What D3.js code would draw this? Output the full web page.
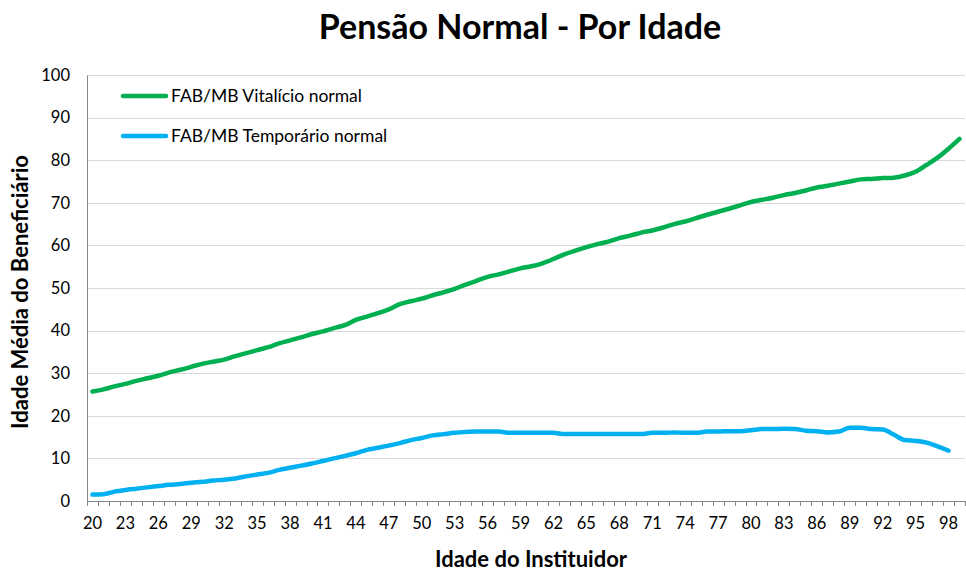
<!DOCTYPE html>
<html><head><meta charset="utf-8">
<script src="https://cdn.jsdelivr.net/npm/d3@7"></script>
<style>body{margin:0;background:#fff}svg{display:block}</style>
</head><body>
<script>
const ages = d3.range(20, 100);
const vitalicio = [25.7,26.2,26.9,27.5,28.2,28.8,29.4,30.2,30.8,31.5,32.2,32.7,33.2,34.0,34.7,35.4,36.1,37.0,37.7,38.4,39.2,39.8,40.6,41.3,42.5,43.3,44.1,45.0,46.2,46.9,47.5,48.3,49.0,49.8,50.8,51.7,52.6,53.2,53.9,54.6,55.1,55.8,56.8,57.9,58.8,59.6,60.3,60.9,61.7,62.3,63.0,63.5,64.2,65.0,65.6,66.4,67.2,67.9,68.6,69.4,70.2,70.7,71.2,71.8,72.3,72.9,73.6,74.0,74.5,75.0,75.5,75.6,75.8,75.9,76.4,77.3,78.9,80.6,82.7,85.0];
const temporario = [1.5,1.6,2.2,2.6,2.9,3.2,3.5,3.8,4.0,4.3,4.5,4.8,5.0,5.3,5.8,6.2,6.6,7.3,7.8,8.3,8.8,9.4,10.0,10.6,11.2,12.0,12.5,13.0,13.6,14.3,14.8,15.4,15.7,16.0,16.2,16.3,16.3,16.3,16.0,16.0,16.0,16.0,16.0,15.7,15.7,15.7,15.7,15.7,15.7,15.7,15.7,16.0,16.0,16.1,16.0,16.0,16.3,16.3,16.4,16.4,16.6,16.9,16.9,16.95,16.9,16.5,16.4,16.1,16.3,17.2,17.2,16.9,16.8,15.6,14.3,14.1,13.7,12.8,11.8];
const yTicks = [0,10,20,30,40,50,60,70,80,90,100];
const xTickLabels = d3.range(20, 100, 3);
const seriesNames = ["FAB/MB Vitalício normal", "FAB/MB Temporário normal"];
const seriesColors = ["#00B050", "#00B0F0"];

const W = 966, H = 571;
const m = {left: 87, right: 1, top: 75, bottom: 70};
const font = "Lato, 'Open Sans', sans-serif";

const svg = d3.select("body").append("svg").attr("width", W).attr("height", H);

const x = d3.scaleBand().domain(ages).range([m.left, W - m.right]).padding(0);
const y = d3.scaleLinear().domain([0, 100]).range([H - m.bottom, m.top]);

// gridlines
svg.append("g").selectAll("line").data(yTicks.filter(d => d > 0)).join("line")
  .attr("x1", m.left).attr("x2", W - m.right)
  .attr("y1", d => Math.round(y(d)) + 0.5).attr("y2", d => Math.round(y(d)) + 0.5)
  .attr("stroke", "#d9d9d9").attr("stroke-width", 1);

// y axis
const yAxis = svg.append("g").attr("transform", `translate(${m.left},0)`)
  .call(d3.axisLeft(y).tickValues(yTicks).tickSize(0).tickPadding(17));
yAxis.select(".domain").attr("stroke", "#868686");
yAxis.selectAll("text").attr("font-family", font).attr("font-size", 16.5).attr("fill", "#000");

// x axis
const xAxis = svg.append("g").attr("transform", `translate(0,${H - m.bottom})`)
  .call(d3.axisBottom(x).tickValues(xTickLabels).tickSize(0).tickPadding(16));
xAxis.select(".domain").attr("stroke", "#868686");
xAxis.selectAll("text").attr("font-family", font).attr("font-size", 16.5).attr("fill", "#000");
// tick marks between categories
svg.append("g").selectAll("line").data(ages.concat([100])).join("line")
  .attr("x1", d => Math.round(d === 100 ? W - m.right : x(d)) + 0.5)
  .attr("x2", d => Math.round(d === 100 ? W - m.right : x(d)) + 0.5)
  .attr("y1", H - m.bottom).attr("y2", H - m.bottom + 5)
  .attr("stroke", "#868686");

// lines
const line = d3.line().x((d, i) => x(ages[i]) + x.bandwidth() / 2).y(d => y(d)).curve(d3.curveMonotoneX);
[vitalicio, temporario].forEach((s, k) => {
  svg.append("path").datum(s).attr("d", line)
    .attr("fill", "none").attr("stroke", seriesColors[k]).attr("stroke-width", 4.5)
    .attr("stroke-linecap", "round").attr("stroke-linejoin", "round");
});

// legend
seriesNames.forEach((n, k) => {
  const ly = 96 + k * 40;
  svg.append("line").attr("x1", 123).attr("x2", 166).attr("y1", ly).attr("y2", ly)
    .attr("stroke", seriesColors[k]).attr("stroke-width", 4.5).attr("stroke-linecap", "round");
  svg.append("text").attr("x", 171).attr("y", ly + 6).text(n)
    .attr("font-family", font).attr("font-size", 17.5).attr("fill", "#000");
});

// title
svg.append("text").attr("x", 520).attr("y", 39).attr("text-anchor", "middle")
  .attr("font-family", font).attr("font-weight", "bold").attr("font-size", 34).text("Pensão Normal - Por Idade");

// axis titles
svg.append("text").attr("x", 531).attr("y", 567).attr("text-anchor", "middle")
  .attr("font-family", font).attr("font-weight", "bold").attr("font-size", 22).text("Idade do Instituidor");
svg.append("text").attr("transform", "translate(28,292) rotate(-90)").attr("text-anchor", "middle")
  .attr("font-family", font).attr("font-weight", "bold").attr("font-size", 22).text("Idade Média do Beneficiário");
</script>
</body></html>
